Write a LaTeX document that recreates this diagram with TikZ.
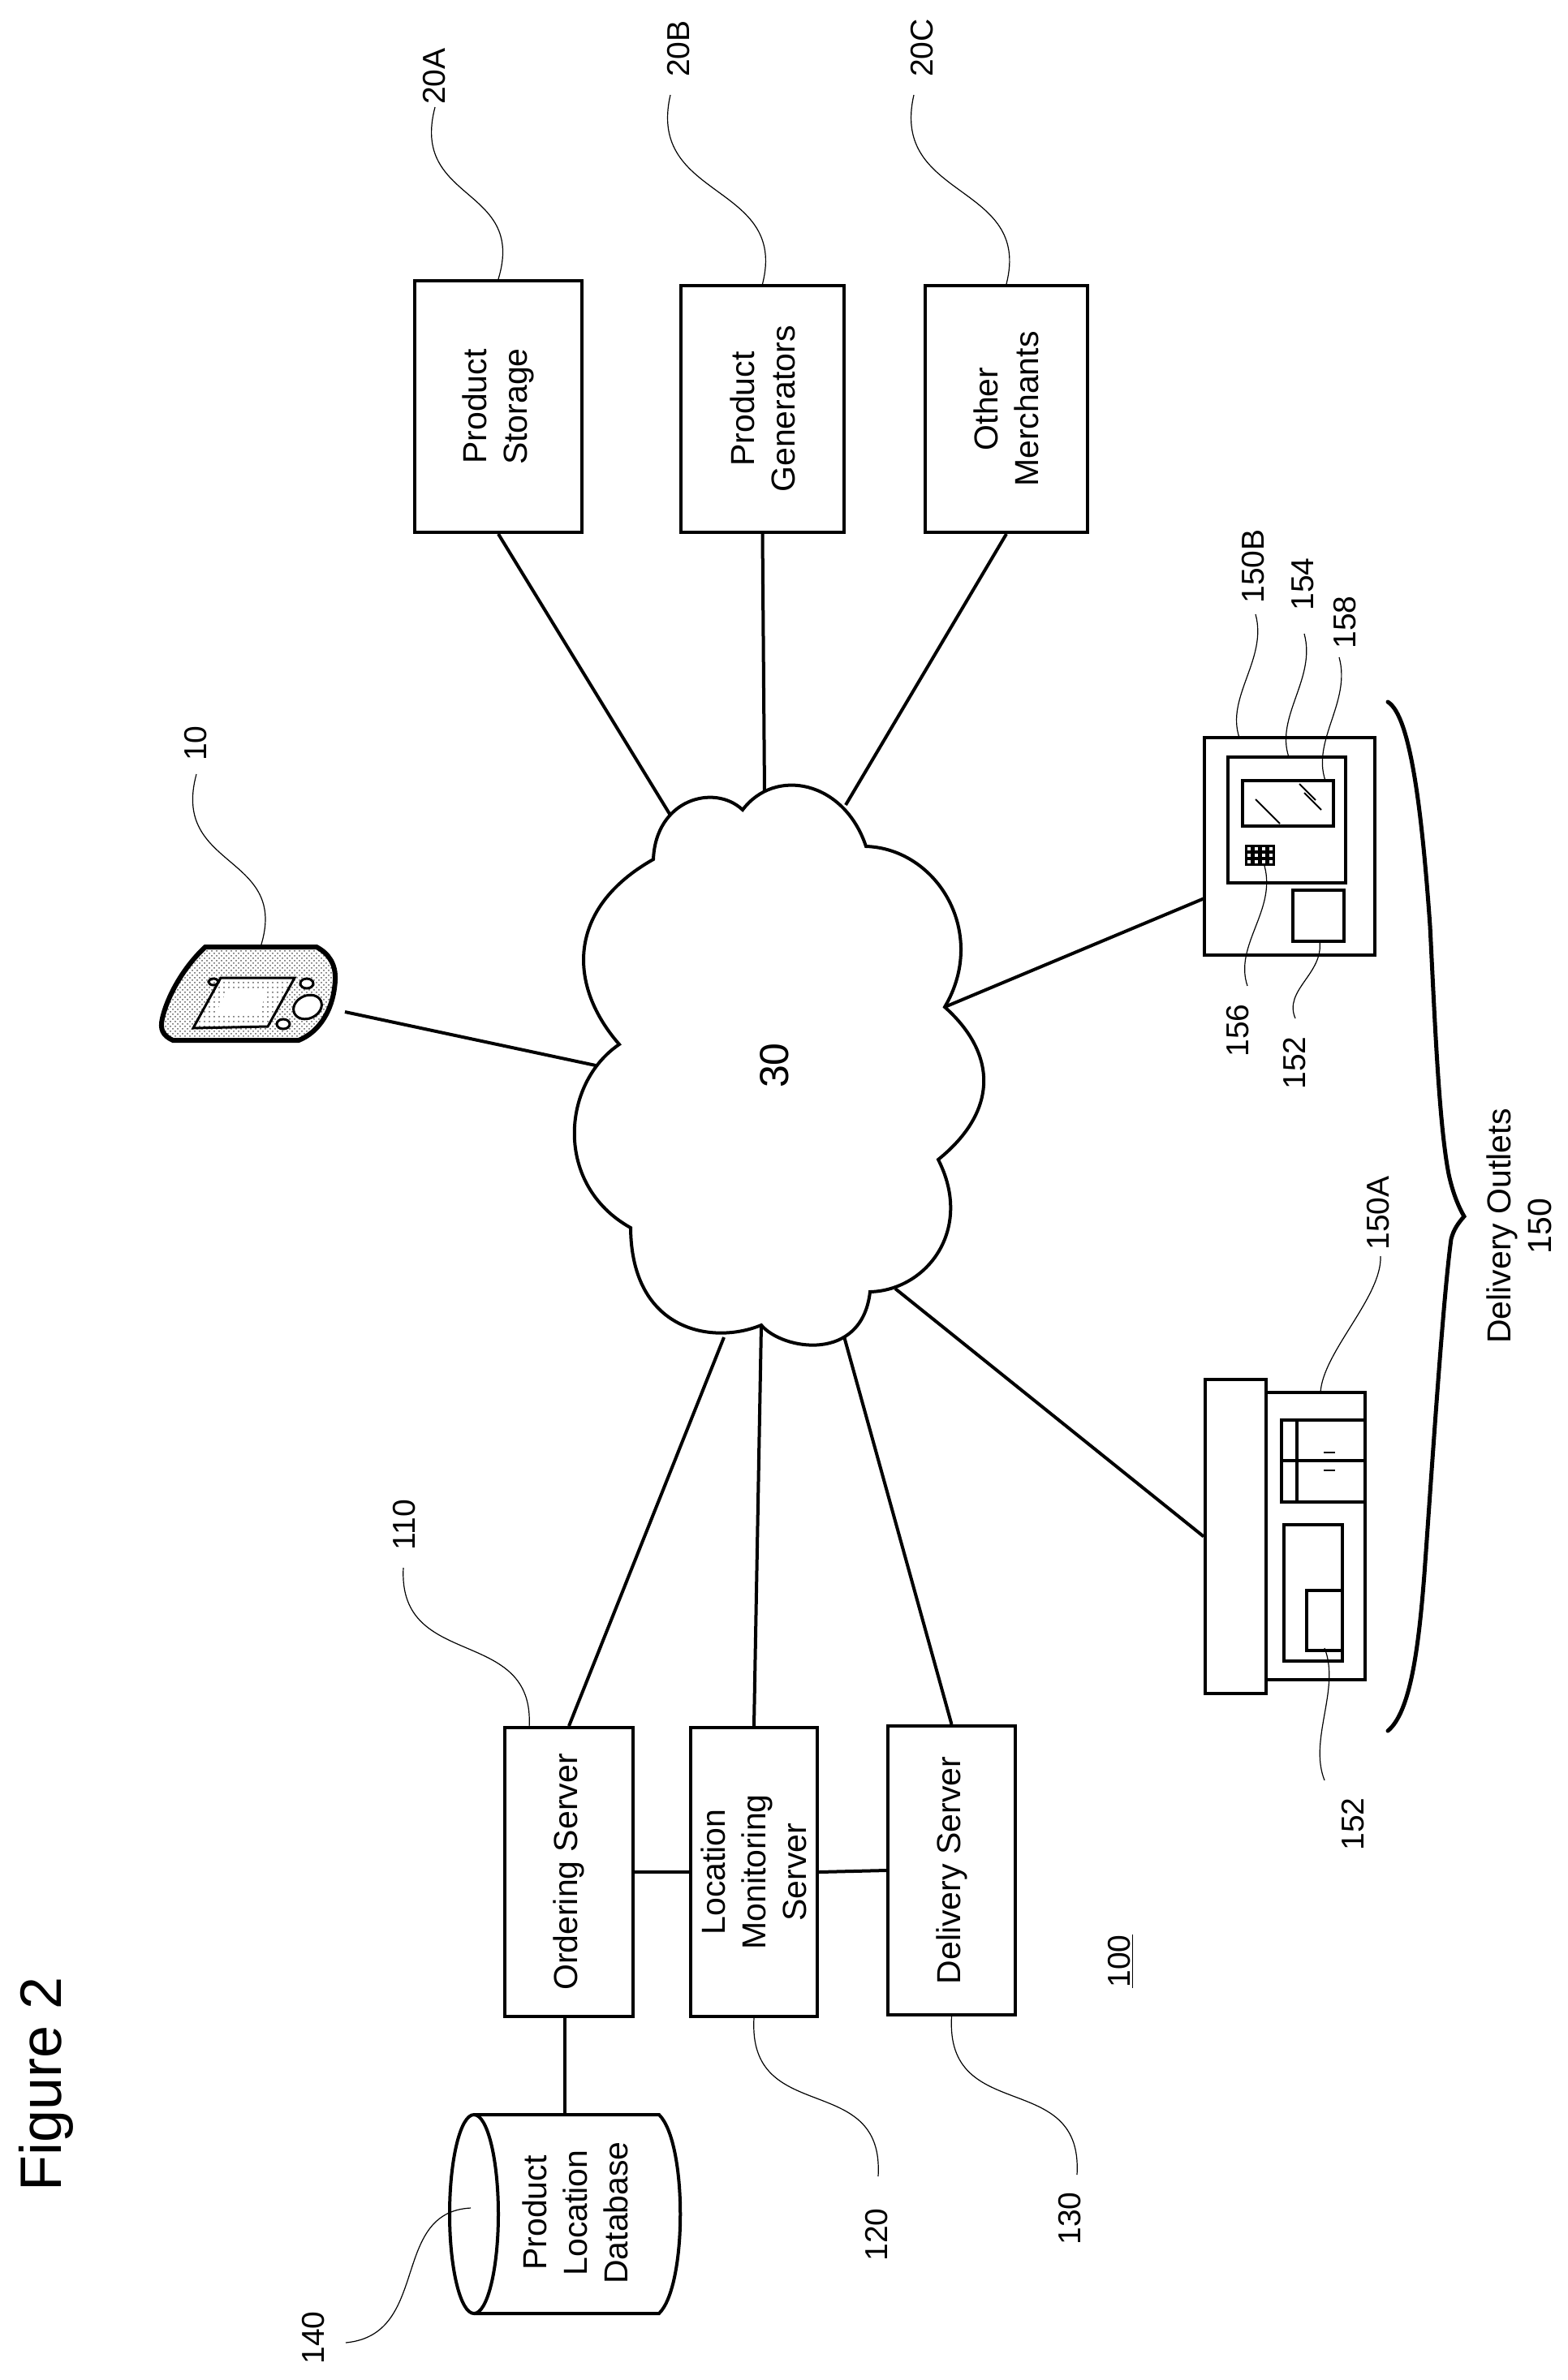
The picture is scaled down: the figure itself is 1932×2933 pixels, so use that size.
\documentclass[tikz,border=0pt]{standalone}
\usepackage{fontspec}
\setmainfont{Liberation Sans}
\usetikzlibrary{patterns}

\newcommand*{\boxfont}{\fontsize{20.5}{25}\selectfont}
\newcommand*{\tagfont}{\fontsize{19.5}{25}\selectfont}

\begin{document}
\begin{tikzpicture}[x=0.5pt, y=-0.5pt,
    box/.style = {draw, line width=2pt, rotate=90, align=center, inner sep=0pt, font=\boxfont},
    tag/.style = {rotate=90, align=center, inner sep=0pt, font=\tagfont},
    link/.style = {line width=2pt},
    part/.style = {line width=2pt},
    leader/.style = {line width=0.6pt}]
    \useasboundingbox (0,0) rectangle (1932,2933);

    % merchants
    \node[box, minimum width=155pt, minimum height=103pt] (storage) at (614,501) {Product\\Storage};
    \node[box, minimum width=152pt, minimum height=100.5pt] (generators) at (939.5,504) {Product\\Generators};
    \node[box, minimum width=152pt, minimum height=100pt] (merchants) at (1240,504) {Other\\Merchants};

    % servers
    \node[box, minimum width=178pt, minimum height=79pt] (ordering) at (701,2307) {Ordering Server};
    \node[box, minimum width=178pt, minimum height=78pt] (location) at (929,2307) {Location\\Monitoring\\Server};
    \node[box, minimum width=178pt, minimum height=78.5pt] (delivery) at (1172.5,2305) {Delivery Server};

    % database
    \coordinate (dbport) at (696,2606);
    \draw[part] (584,2606) -- (812,2606)
        .. controls (847,2640) and (847,2817) .. (812,2851) -- (584,2851);
    \draw[part] (584,2728.5) ellipse (30 and 122.5);
    \node[box, draw=none] (dbtext) at (709,2727) {Product\\Location\\Database};

    % delivery outlet, store
    \draw[part] (1560,1716) rectangle (1682,2070);
    \draw[part] (1579,1750) rectangle (1682,1851);
    \draw[part] (1598,1750) -- (1598,1851);
    \draw[part] (1579,1800) -- (1682,1800);
    \draw[line width=1pt] (1631,1790) -- (1645,1790);
    \draw[line width=1pt] (1631,1812) -- (1645,1812);
    \draw[part] (1582,1879) rectangle (1654,2047);
    \draw[part] (1610,1960) rectangle (1654,2034);
    \node[box, minimum width=193.5pt, minimum height=37.5pt] (store) at (1522.5,1893.5) {};

    % delivery outlet, kiosk
    \node[draw, line width=2pt, inner sep=0pt, minimum width=105pt, minimum height=134pt] (kiosk) at (1589,1043) {};
    \draw[part] (1513,933) rectangle (1658,1088);
    \draw[part] (1531,962) rectangle (1643,1018);
    \draw[line width=1pt] (1547,985) -- (1577,1015);
    \draw[line width=1pt] (1601,966) -- (1621,986);
    \draw[line width=1pt] (1607,977) -- (1628,998);
    \fill (1534,1041) rectangle (1571,1067);
    \foreach \col in {1539,1548,1557,1566}
        \foreach \row in {1046,1054,1062}
            \fill[white] (\col-2,\row-2) rectangle (\col+2,\row+2);
    \draw[part] (1593,1097) rectangle (1656,1160);
    \coordinate (kioskport) at (1484,1107);

    % handheld
    \coordinate (phoneport) at (425,1247);
    \coordinate (phonetop) at (321,1167);
    \filldraw[line width=3pt, pattern=crosshatch dots, pattern color=black!65] (253,1167) -- (390,1167)
        .. controls (405,1175) and (414,1188) .. (413,1208)
        .. controls (411,1245) and (393,1272) .. (368,1282) -- (213,1282)
        .. controls (200,1276) and (197,1268) .. (200,1255)
        .. controls (207,1225) and (228,1190) .. (253,1167) -- cycle;
    \fill[white] (272,1205) -- (363,1205) -- (330,1265) -- (238,1267) -- cycle;
    \draw[line width=1.5pt, pattern=dots, pattern color=black!65] (272,1205) -- (363,1205) -- (330,1265) -- (238,1267) -- cycle;
    \fill[white] (280,1220) -- (330,1220) -- (318,1250) -- (265,1250) -- cycle;
    \draw[line width=1.5pt] (263,1210) ellipse (6 and 4);
    \draw[line width=1.5pt, fill=white] (378,1212) ellipse (8 and 6);
    \draw[line width=1.5pt, fill=white] (349,1262) ellipse (8 and 6);
    \draw[line width=1.5pt, fill=white, rotate around={25:(379,1241)}] (379,1241) ellipse (18 and 14);

    % where the links meet the cloud
    \coordinate (netA) at (825,1003);
    \coordinate (netB) at (942,977);
    \coordinate (netC) at (1042,992);
    \coordinate (netD) at (1164,1241);
    \coordinate (netE) at (1103,1588);
    \coordinate (netF) at (1040,1647);
    \coordinate (netG) at (938,1633);
    \coordinate (netH) at (892,1648);
    \coordinate (netI) at (734,1313);

    \draw[link] (storage.west) -- (netA);
    \draw[link] (generators.west) -- (netB);
    \draw[link] (merchants.west) -- (netC);
    \draw[link] (kioskport) -- (netD);
    \draw[link] (store.north) -- (netE);
    \draw[link] (delivery.east) -- (netF);
    \draw[link] (location.east) -- (netG);
    \draw[link] (ordering.east) -- (netH);
    \draw[link] (phoneport) -- (netI);
    \draw[link] (ordering.south) -- (location.north);
    \draw[link] (location.south) -- (delivery.north);
    \draw[link] (ordering.west -| dbport) -- (dbport);

    % cloud
    \draw[link, fill=white] (915,998)
        .. controls (955,945) and (1040,962) .. (1067,1043)
        .. controls (1155,1046) and (1218,1150) .. (1164,1241)
        .. controls (1230,1300) and (1229,1370) .. (1156,1429)
        .. controls (1200,1515) and (1142,1590) .. (1072,1592)
        .. controls (1062,1680) and (964,1664) .. (938,1633)
        .. controls (877,1658) and (778,1640) .. (777,1513)
        .. controls (682,1460) and (692,1335) .. (763,1287)
        .. controls (700,1215) and (697,1120) .. (805,1059)
        .. controls (808,985) and (880,965) .. cycle;
    \node[rotate=90, inner sep=0pt, font=\fontsize{25}{30}\selectfont] (net) at (954,1313) {30};

    % brace
    \draw[line width=2.5pt, line cap=round] (1710,865)
        .. controls (1738,882) and (1752,1000) .. (1762,1141)
        .. controls (1768,1260) and (1773,1385) .. (1785,1447)
        .. controls (1790,1470) and (1797,1487) .. (1804,1499)
        .. controls (1797,1507) and (1791,1515) .. (1788,1527)
        .. controls (1778,1600) and (1765,1800) .. (1755,1940)
        .. controls (1748,2030) and (1738,2110) .. (1710,2133);

    % labels
    \node[tag] (l20A) at (535,94) {20A};
    \node[tag] (l20B) at (836,60) {20B};
    \node[tag] (l20C) at (1136,59) {20C};
    \node[tag] (l10) at (241,916) {10};
    \node[tag] (l110) at (498,1879) {110};
    \node[tag] (l120) at (1080,2754) {120};
    \node[tag] (l130) at (1318,2734) {130};
    \node[tag] (l140) at (386,2881) {140};
    \node[tag] (l100) at (1381,2417) {\underline{100}};
    \node[tag] (l150A) at (1698,1495) {150A};
    \node[tag] (l150B) at (1544,698) {150B};
    \node[tag] (l154) at (1605,720) {154};
    \node[tag] (l158) at (1657,767) {158};
    \node[tag] (l156) at (1525,1270) {156};
    \node[tag] (l152k) at (1595,1310) {152};
    \node[tag] (l152s) at (1667,2248) {152};
    \node[rotate=90, align=center, inner sep=0pt, font=\boxfont] (outlets) at (1872,1511) {Delivery Outlets\\150};
    \node[rotate=90, anchor=base, inner sep=0pt, font=\fontsize{36}{40}\selectfont] (figure) at (75,2568) {Figure 2};

    % leaders
    \coordinate (e10) at (242,954);
    \coordinate (e20A) at (536,132);
    \coordinate (e20B) at (826,117);
    \coordinate (e20C) at (1126,117);
    \coordinate (e110) at (497,1932);
    \coordinate (b110) at (652,2129);
    \coordinate (e120) at (1082,2682);
    \coordinate (e130) at (1327,2680);
    \coordinate (e140) at (426,2887);
    \coordinate (b140) at (580,2721);
    \coordinate (e150A) at (1701,1548);
    \coordinate (b150A) at (1627,1716);
    \coordinate (e150B) at (1547,757);
    \coordinate (b150B) at (1527,909);
    \coordinate (e154) at (1607,781);
    \coordinate (b154) at (1588,933);
    \coordinate (e158) at (1650,810);
    \coordinate (b158) at (1633,962);
    \coordinate (e156) at (1537,1215);
    \coordinate (b156) at (1558,1067);
    \coordinate (e152k) at (1596,1255);
    \coordinate (b152k) at (1626,1160);
    \coordinate (e152s) at (1632,2194);
    \coordinate (b152s) at (1632,2031);

    \draw[leader] (e10) .. controls +(-32,118) and +(37,-115) .. (phonetop);
    \draw[leader] (e20A) .. controls +(-31,118) and +(35,-115) .. (storage.east);
    \draw[leader] (e20B) .. controls +(-30,130) and +(32,-125) .. (generators.east);
    \draw[leader] (e20C) .. controls +(-30,130) and +(32,-125) .. (merchants.east);
    \draw[leader] (e110) .. controls +(-7,128) and +(8,-127) .. (b110);
    \draw[leader] (location.west) .. controls +(-8,135) and +(8,-132) .. (e120);
    \draw[leader] (delivery.west) .. controls +(-8,135) and +(8,-132) .. (e130);
    \draw[leader] (e140) .. controls +(105,-10) and +(-100,5) .. (b140);
    \draw[leader] (e150A) .. controls +(2,50) and +(3,-50) .. (b150A);
    \draw[leader] (e150B) .. controls +(15,55) and +(-17,-50) .. (b150B);
    \draw[leader] (e154) .. controls +(15,55) and +(-17,-50) .. (b154);
    \draw[leader] (e158) .. controls +(15,55) and +(-17,-50) .. (b158);
    \draw[leader] (b156) .. controls +(15,55) and +(-17,-50) .. (e156);
    \draw[leader] (b152k) .. controls +(5,40) and +(-15,-35) .. (e152k);
    \draw[leader] (b152s) .. controls +(20,50) and +(-20,-50) .. (e152s);
\end{tikzpicture}
\end{document}
